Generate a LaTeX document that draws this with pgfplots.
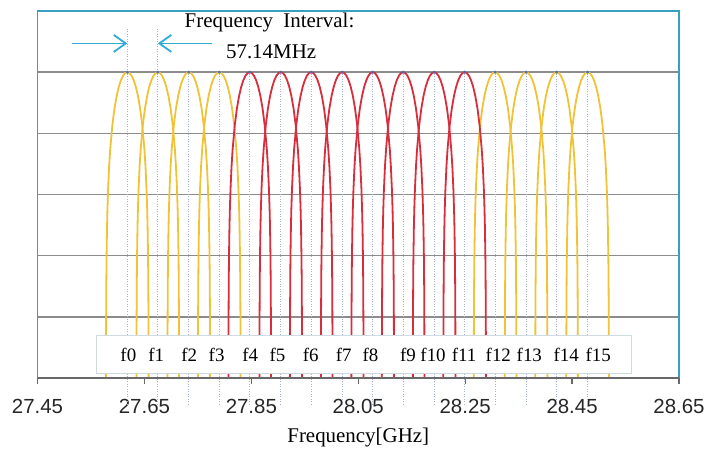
\documentclass[border=0pt]{standalone}
\usepackage{fontspec}
\setmainfont{Liberation Serif}
\setsansfont{Liberation Sans}
\usepackage{pgfplots}
\pgfplotsset{compat=1.18}
\usepackage{pgfplotstable}
\usetikzlibrary{arrows.meta}

\definecolor{framec}{RGB}{55,160,190}
\definecolor{arrowc}{RGB}{50,170,215}
\definecolor{gridg}{RGB}{140,140,140}
\definecolor{ylw}{RGB}{240,195,55}
\definecolor{rd}{RGB}{215,45,60}
\definecolor{dotc}{RGB}{165,175,215}
\definecolor{peakc}{RGB}{70,110,190}
\definecolor{boxc}{RGB}{205,218,225}

% one lobe, offset from its centre frequency (GHz) vs level (grid units)
\pgfplotstableread{
dx y
-0.03987 0
-0.0398 0.402
-0.0396 1.009
-0.0392 1.619
-0.0388 1.979
-0.0380 2.439
-0.0372 2.746
-0.0360 3.077
-0.0340 3.461
-0.0320 3.738
-0.0280 4.131
-0.0240 4.406
-0.0200 4.608
-0.0160 4.758
-0.0120 4.867
-0.0080 4.942
-0.0040 4.986
0 5
0.0040 4.986
0.0080 4.942
0.0120 4.867
0.0160 4.758
0.0200 4.608
0.0240 4.406
0.0280 4.131
0.0320 3.738
0.0340 3.461
0.0360 3.077
0.0372 2.746
0.0380 2.439
0.0388 1.979
0.0392 1.619
0.0396 1.009
0.0398 0.402
0.03987 0
}\lobe

\begin{document}
\begin{tikzpicture}
\useasboundingbox (-37.5bp,-79bp) rectangle (666.5bp,378bp);
\begin{axis}[
  at={(0,0)}, anchor=south west,
  scale only axis, width=641.5bp, height=367bp,
  xmin=27.45, xmax=28.65, ymin=0, ymax=6,
  axis line style={draw=none},
  xtick={27.45,27.65,27.85,28.05,28.25,28.45,28.65},
  xticklabels={27.45,27.65,27.85,28.05,28.25,28.45,28.65},
  ytick=\empty,
  xtick pos=left, tick align=outside, major tick length=6bp,
  tick style={gridg!75!black, line width=1.2bp},
  xticklabel style={font=\fontsize{20.5}{24}\selectfont\sffamily, text=black!85,
    anchor=center, yshift=-22bp},
  xlabel={Frequency[GHz]},
  xlabel style={font=\fontsize{21}{25}\selectfont, at={(axis description cs:0.5,0)},
    anchor=center, yshift=-59bp},
  clip=false,
  unbounded coords=jump,
]
% horizontal grid
\addplot[gridg, line width=1.6bp] coordinates {
 (27.45,1) (28.65,1) (28.65,nan)
 (27.45,2) (28.65,2) (28.65,nan)
 (27.45,3) (28.65,3) (28.65,nan)
 (27.45,4) (28.65,4) (28.65,nan)
 (27.45,5) (28.65,5)
};
% dotted markers at the carrier frequencies
\addplot[dotc, line width=0.9bp, dash pattern=on 1bp off 1.5bp] coordinates {
 (27.618,-0.44) (27.618,5.72) (27.618,nan)
 (27.675,-0.44) (27.675,5.72) (27.675,nan)
 (27.733,-0.44) (27.733,5) (27.733,nan)
 (27.790,-0.44) (27.790,5) (27.790,nan)
 (27.847,-0.44) (27.847,5) (27.847,nan)
 (27.905,-0.44) (27.905,5) (27.905,nan)
 (27.962,-0.44) (27.962,5) (27.962,nan)
 (28.020,-0.44) (28.020,5) (28.020,nan)
 (28.077,-0.44) (28.077,5) (28.077,nan)
 (28.134,-0.44) (28.134,5) (28.134,nan)
 (28.192,-0.44) (28.192,5) (28.192,nan)
 (28.249,-0.44) (28.249,5) (28.249,nan)
 (28.306,-0.44) (28.306,5) (28.306,nan)
 (28.364,-0.44) (28.364,5) (28.364,nan)
 (28.421,-0.44) (28.421,5) (28.421,nan)
 (28.479,-0.44) (28.479,5)
};
% lobes
\addplot[ylw, line width=1.8bp] table[x expr=\thisrow{dx}+27.618, y=y] {\lobe};
\addplot[ylw, line width=1.8bp] table[x expr=\thisrow{dx}+27.675, y=y] {\lobe};
\addplot[ylw, line width=1.8bp] table[x expr=\thisrow{dx}+27.733, y=y] {\lobe};
\addplot[ylw, line width=1.8bp] table[x expr=\thisrow{dx}+27.790, y=y] {\lobe};
\addplot[ylw, line width=1.8bp] table[x expr=\thisrow{dx}+28.306, y=y] {\lobe};
\addplot[ylw, line width=1.8bp] table[x expr=\thisrow{dx}+28.364, y=y] {\lobe};
\addplot[ylw, line width=1.8bp] table[x expr=\thisrow{dx}+28.421, y=y] {\lobe};
\addplot[ylw, line width=1.8bp] table[x expr=\thisrow{dx}+28.479, y=y] {\lobe};
\addplot[rd, line width=1.8bp] table[x expr=\thisrow{dx}+27.847, y=y] {\lobe};
\addplot[rd, line width=1.8bp] table[x expr=\thisrow{dx}+27.905, y=y] {\lobe};
\addplot[rd, line width=1.8bp] table[x expr=\thisrow{dx}+27.962, y=y] {\lobe};
\addplot[rd, line width=1.8bp] table[x expr=\thisrow{dx}+28.020, y=y] {\lobe};
\addplot[rd, line width=1.8bp] table[x expr=\thisrow{dx}+28.077, y=y] {\lobe};
\addplot[rd, line width=1.8bp] table[x expr=\thisrow{dx}+28.134, y=y] {\lobe};
\addplot[rd, line width=1.8bp] table[x expr=\thisrow{dx}+28.192, y=y] {\lobe};
\addplot[rd, line width=1.8bp] table[x expr=\thisrow{dx}+28.249, y=y] {\lobe};
% peak dots
\addplot[only marks, mark=*, mark size=1.3bp, peakc] coordinates {
 (27.618,5) (27.675,5) (27.733,5) (27.790,5) (27.847,5) (27.905,5)
 (27.962,5) (28.020,5) (28.077,5) (28.134,5) (28.192,5) (28.249,5)
 (28.306,5) (28.364,5) (28.421,5) (28.479,5)
};
% frame
\draw[framec, line width=1.8bp] (rel axis cs:0,0) -- (rel axis cs:0,1)
  -- (rel axis cs:1,1) -- (rel axis cs:1,0);
\draw[gridg!75!black, line width=1.2bp] (rel axis cs:0,0) -- (rel axis cs:1,0);
% label box
\draw[boxc, fill=white, line width=0.8bp] (axis cs:27.561,0.08) rectangle (axis cs:28.561,0.70);
\begin{scope}[font=\fontsize{19}{22}\selectfont]
\node at (axis cs:27.620,0.376) {f0};
\node at (axis cs:27.672,0.376) {f1};
\node at (axis cs:27.734,0.376) {f2};
\node at (axis cs:27.785,0.376) {f3};
\node at (axis cs:27.848,0.376) {f4};
\node at (axis cs:27.899,0.376) {f5};
\node at (axis cs:27.961,0.376) {f6};
\node at (axis cs:28.023,0.376) {f7};
\node at (axis cs:28.073,0.376) {f8};
\node at (axis cs:28.143,0.376) {f9};
\node at (axis cs:28.190,0.376) {f10};
\node at (axis cs:28.248,0.376) {f11};
\node at (axis cs:28.312,0.376) {f12};
\node at (axis cs:28.370,0.376) {f13};
\node at (axis cs:28.439,0.376) {f14};
\node at (axis cs:28.499,0.376) {f15};
\end{scope}
% interval annotation
\node[font=\fontsize{21}{25}\selectfont] at (axis cs:27.884,5.817) {Frequency\ \ Interval:};
\node[font=\fontsize{21}{25}\selectfont] at (axis cs:27.887,5.327) {57.14MHz};
\draw[arrowc, line width=1.8bp, -{Straight Barb[length=12bp,width=17bp]}]
  (axis cs:27.514,5.47) -- (axis cs:27.618,5.47);
\draw[arrowc, line width=1.8bp, -{Straight Barb[length=12bp,width=17bp]}]
  (axis cs:27.777,5.47) -- (axis cs:27.675,5.47);
\end{axis}
\end{tikzpicture}
\end{document}
